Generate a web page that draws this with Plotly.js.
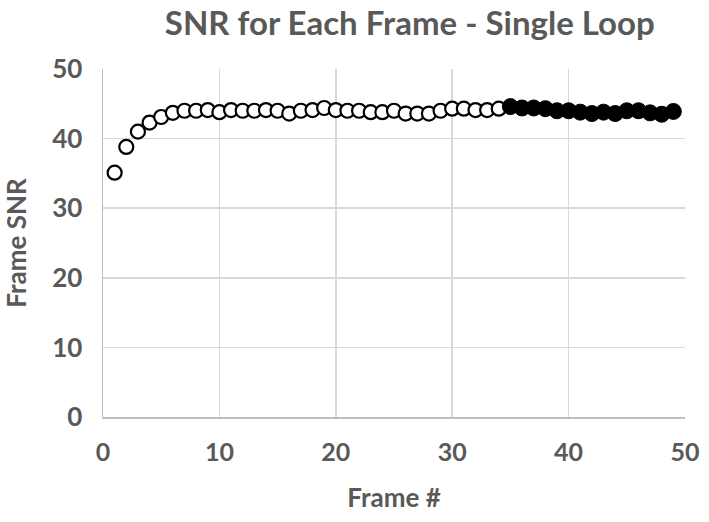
<!DOCTYPE html>
<html><head><meta charset="utf-8">
<script src="https://cdn.plot.ly/plotly-3.0.1.min.js"></script>
<style>html,body{margin:0;padding:0;background:#fff}#chart{width:709px;height:522px}</style>
</head><body><div id="chart"></div>
<script>
var openFrames = [1,2,3,4,5,6,7,8,9,10,11,12,13,14,15,16,17,18,19,20,21,22,23,24,25,26,27,28,29,30,31,32,33,34];
var openSNR = [35.1,38.8,41.0,42.3,43.1,43.7,44.0,44.0,44.1,43.8,44.1,44.0,44.0,44.1,44.0,43.6,44.0,44.1,44.4,44.1,44.0,44.0,43.8,43.8,44.0,43.6,43.6,43.6,44.0,44.3,44.3,44.1,44.1,44.3];
var filledFrames = [35,36,37,38,39,40,41,42,43,44,45,46,47,48,49];
var filledSNR = [44.6,44.4,44.4,44.3,44.0,44.0,43.8,43.6,43.8,43.6,44.0,44.0,43.7,43.5,43.9];
var xTicks = [0,10,20,30,40,50];
var yTicks = [0,10,20,30,40,50];

var fontFam = 'Lato, "Open Sans", sans-serif';
var gray = '#595959';
var bold = function(v){return '<b>'+v+'</b>';};
var traces = [
  {x: openFrames, y: openSNR, type: 'scatter', mode: 'markers',
   marker: {symbol: 'circle', size: 14, color: '#ffffff', line: {color: '#000000', width: 2.2}}},
  {x: filledFrames, y: filledSNR, type: 'scatter', mode: 'markers',
   marker: {symbol: 'circle', size: 16, color: '#000000', line: {color: '#000000', width: 1}}}
];
var layout = {
  width: 709, height: 522,
  margin: {l: 103, r: 24, t: 69, b: 105},
  paper_bgcolor: '#ffffff', plot_bgcolor: '#ffffff',
  showlegend: false,
  title: {text: bold('SNR for Each Frame - Single Loop'), x: 0.578, xanchor: 'center', y: 0.955, yanchor: 'middle',
          font: {family: fontFam, size: 33, color: gray}},
  xaxis: {range: [0, 50], tickvals: xTicks, ticktext: xTicks.map(bold),
          showgrid: true, gridcolor: '#d9d9d9', gridwidth: 1.5,
          showline: true, linecolor: '#bfbfbf', linewidth: 1.5, zeroline: false,
          ticks: 'outside', ticklen: 12, tickcolor: 'rgba(0,0,0,0)',
          tickfont: {family: fontFam, size: 25, color: gray},
          title: {text: bold('Frame #'), font: {family: fontFam, size: 26, color: gray}, standoff: 24}},
  yaxis: {range: [0, 50], tickvals: yTicks, ticktext: yTicks.map(bold),
          showgrid: true, gridcolor: '#d9d9d9', gridwidth: 1.5,
          showline: true, linecolor: '#bfbfbf', linewidth: 1.5, zeroline: false,
          ticks: 'outside', ticklen: 14, tickcolor: 'rgba(0,0,0,0)',
          tickfont: {family: fontFam, size: 26, color: gray},
          title: {text: bold('Frame SNR'), font: {family: fontFam, size: 26, color: gray}, standoff: 20}}
};
Plotly.newPlot('chart', traces, layout, {displayModeBar: false, staticPlot: true});
</script></body></html>
